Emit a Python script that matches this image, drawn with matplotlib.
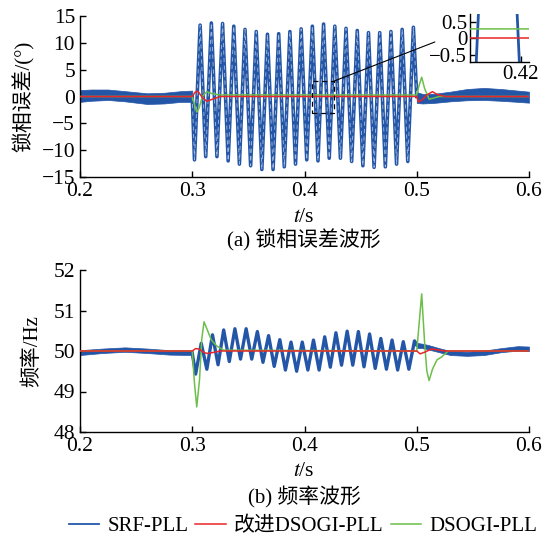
import numpy as np
import matplotlib.pyplot as plt
from matplotlib.patches import Rectangle
from matplotlib.lines import Line2D

plt.rcParams['font.family'] = ['Liberation Serif', 'Noto Sans CJK SC']
plt.rcParams['mathtext.fontset'] = 'stix'
plt.rcParams['font.size'] = 15
plt.rcParams['axes.linewidth'] = 1.0

BLUE = '#2456a8'
RED = '#e8262a'
GREEN = '#6cbf4a'

# ---------------- (a) phase error, deg ----------------
# SRF-PLL ripple band before / after the disturbance
band_a_t1 = [0.2, 0.21, 0.225, 0.24, 0.26, 0.275, 0.29, 0.3]
band_a_hi1 = [1.2, 1.3, 1.3, 1.0, 0.6, 0.7, 1.0, 1.1]
band_a_lo1 = [-1.0, -0.8, -0.65, -0.9, -1.4, -1.3, -1.0, -1.0]
band_a_t2 = [0.5, 0.505, 0.515, 0.53, 0.545, 0.56, 0.575, 0.59, 0.6]
band_a_hi2 = [0.8, 0.5, 0.5, 0.9, 1.4, 1.6, 1.4, 1.1, 0.9]
band_a_lo2 = [-1.2, -1.3, -1.2, -0.9, -0.7, -0.65, -0.8, -1.0, -1.15]

# SRF-PLL oscillation extremes 0.3 - 0.5 s
a_trough_t = [0.302, 0.312, 0.322, 0.332, 0.342, 0.352, 0.362, 0.372, 0.382, 0.392,
              0.402, 0.412, 0.422, 0.432, 0.442, 0.452, 0.462, 0.472, 0.482, 0.492]
a_trough_v = [-11.8, -11.2, -11.2, -12.0, -12.6, -12.9, -13.6, -13.6, -13.1, -12.6,
              -11.8, -12.0, -11.5, -11.5, -12.1, -12.9, -13.2, -13.1, -12.6, -12.1]
a_peak_t = [0.307, 0.317, 0.327, 0.337, 0.347, 0.357, 0.367, 0.377, 0.387, 0.397,
            0.407, 0.417, 0.427, 0.437, 0.447, 0.457, 0.467, 0.477, 0.487, 0.497]
a_peak_v = [13.3, 13.7, 13.6, 13.1, 12.5, 12.1, 11.6, 11.7, 12.1, 12.6,
            13.1, 13.5, 13.1, 12.7, 12.3, 11.9, 11.9, 12.1, 12.5, 12.9]

# improved DSOGI-PLL
a_red_t = [0.2, 0.3, 0.3025, 0.305, 0.309, 0.313, 0.318, 0.325,
           0.5, 0.5015, 0.505, 0.509, 0.514, 0.518, 0.525, 0.6]
a_red_v = [0, 0, 0.8, 1.0, -0.2, -0.9, -0.5, 0,
           0, -1.0, -0.6, 0.3, 0.9, 0.4, 0, 0]
# DSOGI-PLL
a_grn_t = [0.2, 0.3, 0.302, 0.304, 0.306, 0.309, 0.313, 0.318, 0.325,
           0.5, 0.502, 0.5044, 0.507, 0.511, 0.515, 0.52, 0.6]
a_grn_v = [0, 0, -1.5, -2.9, -2.2, 0.0, 0.9, 0.5, 0.3,
           0.28, 2.0, 3.6, 1.5, -0.5, -0.3, 0, 0]

# ---------------- (b) frequency, Hz ----------------
band_b_t1 = [0.2, 0.22, 0.24, 0.26, 0.28, 0.3]
band_b_hi1 = [50.02, 50.06, 50.09, 50.06, 50.02, 50.01]
band_b_lo1 = [49.90, 49.95, 49.98, 49.95, 49.91, 49.90]
band_b_t2 = [0.5, 0.505, 0.51, 0.52, 0.53, 0.545, 0.56, 0.575, 0.59, 0.6]
band_b_hi2 = [50.20, 50.18, 50.15, 50.07, 50.00, 49.98, 50.01, 50.07, 50.12, 50.11]
band_b_lo2 = [50.08, 50.07, 50.04, 49.97, 49.90, 49.88, 49.90, 49.97, 50.01, 50.00]

b_trough_t = [0.303, 0.313, 0.323, 0.333, 0.343, 0.353, 0.363, 0.373, 0.383, 0.393,
              0.403, 0.413, 0.423, 0.433, 0.443, 0.453, 0.463, 0.473, 0.483, 0.493]
b_trough_v = [49.43, 49.55, 49.66, 49.74, 49.80, 49.80, 49.72, 49.62, 49.53, 49.50,
              49.53, 49.53, 49.60, 49.65, 49.65, 49.61, 49.57, 49.55, 49.53, 49.55]
b_peak_t = [0.308, 0.318, 0.328, 0.338, 0.348, 0.358, 0.368, 0.378, 0.388, 0.398,
            0.408, 0.418, 0.428, 0.438, 0.448, 0.458, 0.468, 0.478, 0.488, 0.498]
b_peak_v = [50.19, 50.40, 50.52, 50.55, 50.55, 50.48, 50.38, 50.28, 50.22, 50.22,
            50.27, 50.35, 50.45, 50.49, 50.48, 50.42, 50.31, 50.27, 50.23, 50.25]

b_red_t = [0.2, 0.3, 0.303, 0.306, 0.31, 0.313, 0.318, 0.325,
           0.5, 0.503, 0.507, 0.5133, 0.518, 0.525, 0.6]
b_red_v = [50, 50, 50.06, 50.05, 49.97, 49.94, 49.96, 50,
           50, 49.93, 49.97, 50.05, 50.03, 50, 50]
b_grn_t = [0.2, 0.3, 0.302, 0.304, 0.3065, 0.3085, 0.3105, 0.313, 0.317, 0.322, 0.328,
           0.5, 0.5025, 0.5044, 0.507, 0.509, 0.511, 0.514, 0.518, 0.522, 0.528, 0.6]
b_grn_v = [50, 50, 49.2, 48.62, 49.3, 50.3, 50.72, 50.55, 50.27, 50.12, 50.02,
           50, 50.8, 51.41, 50.2, 49.5, 49.27, 49.55, 49.78, 49.85, 50.0, 50.0]

labels = ['SRF-PLL', '改进DSOGI-PLL', 'DSOGI-PLL']


def osc_path(t0, v0, tr_t, tr_v, pk_t, pk_v, t1, v1):
    t = np.column_stack([tr_t, pk_t]).ravel()
    v = np.column_stack([tr_v, pk_v]).ravel()
    return np.r_[t0, t, t1], np.r_[v0, v, v1]


def draw_all(ax, bands, osc, red, grn, lw=2.6, white=True):
    for bt, hi, lo in bands:
        ax.fill_between(bt, lo, hi, color=BLUE, lw=0.5, zorder=2)
    ax.plot(osc[0], osc[1], color=BLUE, lw=lw, zorder=2, solid_joinstyle='round')
    if white:
        ax.plot(osc[0], osc[1], color='white', lw=0.6, dashes=(5, 4), alpha=0.6, zorder=2)
    ax.plot(grn[0], grn[1], color=GREEN, lw=1.1, zorder=3)
    ax.plot(red[0], red[1], color=RED, lw=1.1, zorder=4)


def style(ax, size=15.5):
    for s in ['top', 'right']:
        ax.spines[s].set_visible(False)
    ax.tick_params(direction='in', length=4, width=1, labelsize=size)


fig = plt.figure(figsize=(5.51, 5.37), dpi=100)
W, H = 551, 537
ax1 = fig.add_axes([80 / W, 1 - 177 / H, 449 / W, 161 / H])
ax2 = fig.add_axes([80 / W, 1 - 432 / H, 449 / W, 162 / H])

osc_a = osc_path(0.3, 0, a_trough_t, a_trough_v, a_peak_t, a_peak_v, 0.5, 0)
bands_a = [(band_a_t1, band_a_hi1, band_a_lo1), (band_a_t2, band_a_hi2, band_a_lo2)]
draw_all(ax1, bands_a, osc_a, (a_red_t, a_red_v), (a_grn_t, a_grn_v))
ax1.set_xlim(0.2, 0.6)
ax1.set_ylim(-15, 15)
ax1.set_xticks([0.2, 0.3, 0.4, 0.5, 0.6])
ax1.set_yticks([-15, -10, -5, 0, 5, 10, 15])
style(ax1)
ax1.set_ylabel('锁相误差/(°)', fontsize=15)
ax1.yaxis.set_label_coords(-0.1, 0.5)

# zoom box and connector
ax1.add_patch(Rectangle((0.4064, -3.0), 0.0202, 5.9, fill=False, ec='black',
                        lw=0.9, ls=(0, (4, 3)), zorder=5))
ax1.plot([0.4266, 0.516], [2.9, 10.15], color='black', lw=0.8, zorder=5)

axin = fig.add_axes([470 / W, 1 - 62 / H, 59 / W, 48 / H])
draw_all(axin, bands_a, osc_a, (a_red_t, a_red_v), (a_grn_t, a_grn_v), lw=2.0, white=False)
axin.set_xlim(0.4134, 0.4211)
axin.set_ylim(-0.71, 0.74)
axin.set_xticks([0.42])
axin.set_xticklabels(['0.42'])
axin.set_yticks([-0.5, 0, 0.5])
axin.set_yticklabels(['\u22120.5', '0', '0.5'])
style(axin, 15)
axin.tick_params(pad=2)

osc_b = osc_path(0.3, 49.95, b_trough_t, b_trough_v, b_peak_t, b_peak_v, 0.5, 50.15)
bands_b = [(band_b_t1, band_b_hi1, band_b_lo1), (band_b_t2, band_b_hi2, band_b_lo2)]
draw_all(ax2, bands_b, osc_b, (b_red_t, b_red_v), (b_grn_t, b_grn_v), lw=2.4, white=False)
ax2.set_xlim(0.2, 0.6)
ax2.set_ylim(48, 52)
ax2.set_xticks([0.2, 0.3, 0.4, 0.5, 0.6])
ax2.set_yticks([48, 49, 50, 51, 52])
style(ax2)
ax2.set_ylabel('频率/Hz', fontsize=15)
ax2.yaxis.set_label_coords(-0.085, 0.5)

cx = 304 / W
fig.text(cx, 1 - 217 / H, r'$t$/s', ha='center', va='center', fontsize=15.5)
fig.text(cx, 1 - 240 / H, '(a) 锁相误差波形', ha='center', va='center', fontsize=15)
fig.text(cx, 1 - 471 / H, r'$t$/s', ha='center', va='center', fontsize=15.5)
fig.text(cx, 1 - 497 / H, '(b) 频率波形', ha='center', va='center', fontsize=15)

handles = [Line2D([], [], color=BLUE, lw=1.3),
           Line2D([], [], color=RED, lw=1.1),
           Line2D([], [], color=GREEN, lw=1.1)]
fig.legend(handles, labels, loc='center', bbox_to_anchor=(303 / W, 1 - 526 / H),
           ncol=3, frameon=False, handlelength=1.45, handletextpad=0.4,
           columnspacing=0.35, fontsize=15, borderaxespad=0, borderpad=0)

fig.savefig('out.png', dpi=100)
